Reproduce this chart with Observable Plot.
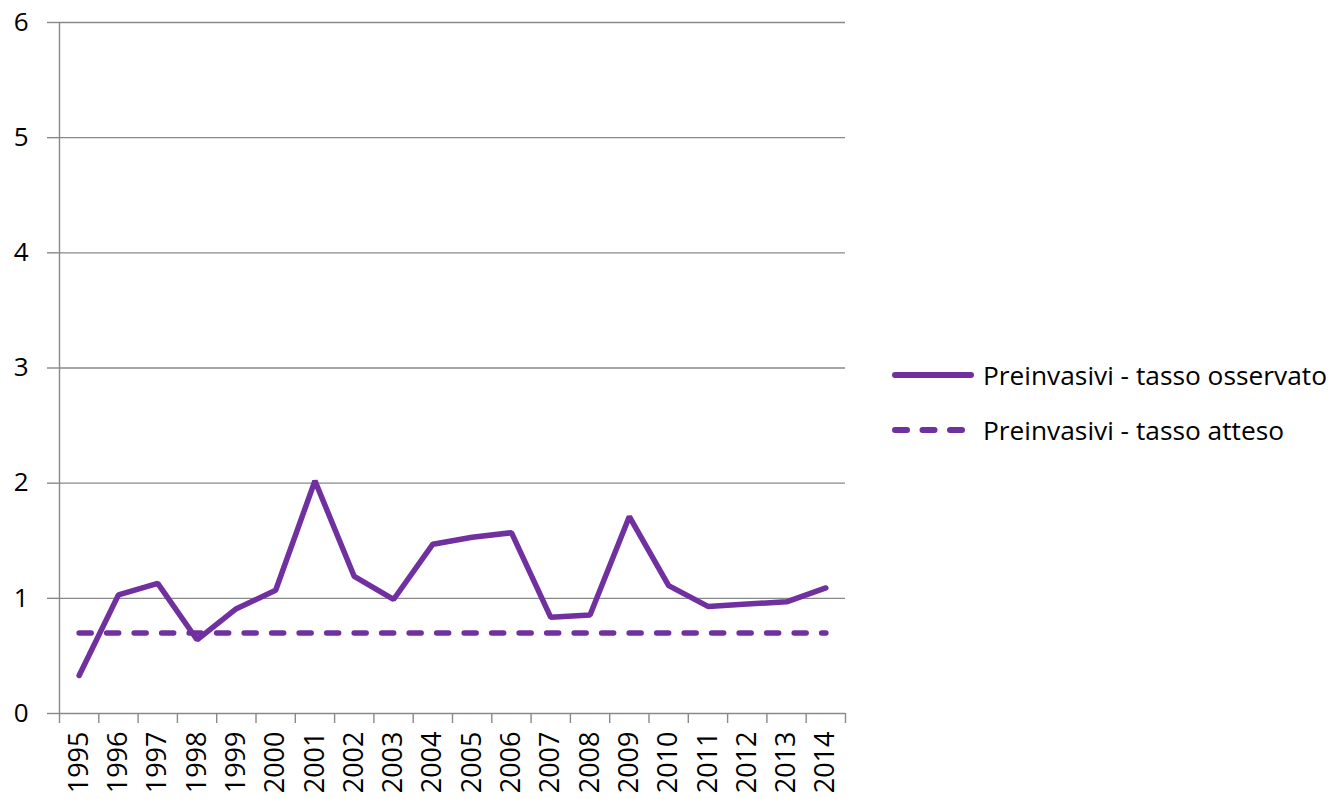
<!DOCTYPE html>
<html>
<head>
<meta charset="utf-8">
<script src="https://cdn.jsdelivr.net/npm/d3@7"></script>
<script src="https://cdn.jsdelivr.net/npm/@observablehq/plot@0.6"></script>
<style>
  html, body { margin: 0; padding: 0; background: #fff; }
  #wrap { position: relative; width: 1332px; height: 799px; font-family: "Open Sans", Lato, sans-serif; }
  #legend { position: absolute; left: 892px; top: 347px; font-size: 26.3px; color: #000; }
  .item { display: flex; align-items: center; height: 55px; }
  .item svg { margin-right: 9px; }
</style>
</head>
<body>
<div id="wrap"><div id="chart"></div>
<div id="legend"></div></div>
<script>
const years = [1995, 1996, 1997, 1998, 1999, 2000, 2001, 2002, 2003, 2004, 2005, 2006, 2007, 2008, 2009, 2010, 2011, 2012, 2013, 2014];
const observed = [0.33, 1.03, 1.13, 0.64, 0.91, 1.07, 2.02, 1.19, 0.99, 1.47, 1.53, 1.57, 0.835, 0.855, 1.71, 1.11, 0.93, 0.95, 0.97, 1.09];
const expected = [0.7, 0.7, 0.7, 0.7, 0.7, 0.7, 0.7, 0.7, 0.7, 0.7, 0.7, 0.7, 0.7, 0.7, 0.7, 0.7, 0.7, 0.7, 0.7, 0.7];
const yTicks = [0, 1, 2, 3, 4, 5, 6];
const seriesNames = ["Preinvasivi - tasso osservato", "Preinvasivi - tasso atteso"];

const purple = "#7030A0";
const grid = "#898989";
const boundaries = years.map(y => y - 0.5).concat([years[years.length - 1] + 0.5]);

const chart = Plot.plot({
  width: 1332,
  height: 799,
  marginLeft: 59,
  marginRight: 487,
  marginTop: 22,
  marginBottom: 86,
  x: {type: "linear", domain: [boundaries[0], boundaries[boundaries.length - 1]]},
  y: {domain: [0, 6]},
  style: {fontFamily: "'Open Sans', Lato, sans-serif", fontSize: "26px", color: "#000", background: "#fff", overflow: "visible"},
  marks: [
    Plot.ruleY(yTicks, {stroke: grid, strokeWidth: 1.4}),
    Plot.axisY(yTicks, {tickSize: 12, tickPadding: 19, stroke: grid, strokeWidth: 1.4, label: null, tickFormat: d => String(d), fontSize: 26}),
    Plot.ruleX([boundaries[0]], {stroke: grid, strokeWidth: 1.4}),
    Plot.axisX(boundaries, {tickSize: 10, stroke: grid, strokeWidth: 1.4, tickFormat: () => "", label: null}),
    Plot.axisX(years, {tickSize: 0, tickRotate: -90, tickPadding: 18, tickFormat: d => String(d), label: null, fontSize: 27}),
    Plot.line(years, {x: years, y: expected, stroke: purple, strokeWidth: 5.5, strokeDasharray: "12,15.5", strokeLinecap: "round"}),
    Plot.line(years, {x: years, y: observed, stroke: purple, strokeWidth: 5.5, strokeLinejoin: "miter", strokeLinecap: "round"})
  ]
});
document.getElementById("chart").appendChild(chart);

const legend = document.getElementById("legend");
seriesNames.forEach((name, i) => {
  const item = document.createElement("div");
  item.className = "item";
  const dash = i === 1 ? ' stroke-dasharray="12,15.5"' : '';
  item.innerHTML = `<svg width="82" height="12"><line x1="3" y1="6" x2="79" y2="6" stroke="${purple}" stroke-width="6" stroke-linecap="round"${dash}/></svg><span>${name}</span>`;
  legend.appendChild(item);
});
</script>
</body>
</html>
